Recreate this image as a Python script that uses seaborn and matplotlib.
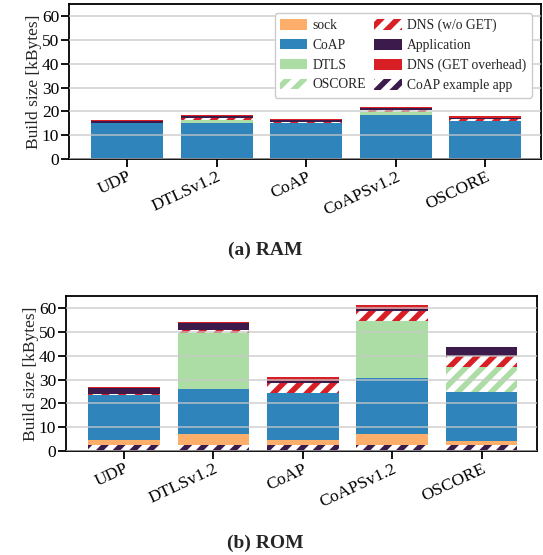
import numpy as np
import matplotlib
matplotlib.use("Agg")
import matplotlib.pyplot as plt
from matplotlib.patches import Patch
import seaborn as sns

# ------------------------------------------
# Data (kBytes), stacked bottom -> top
# ------------------------------------------
categories = ["UDP", "DTLSv1.2", "CoAP", "CoAPSv1.2", "OSCORE"]

layer_names = [
    "CoAP example app",
    "sock",
    "CoAP",
    "DTLS",
    "OSCORE",
    "DNS (w/o GET)",
    "Application",
    "DNS (GET overhead)",
]

# RAM
ram_coap_app = [0, 0, 0, 0, 0]
ram_sock = [0, 0, 0, 0, 0]
ram_coap = [15.1, 15.1, 15.1, 18.3, 15.8]
ram_dtls = [0, 1.1, 0, 1.4, 0]
ram_oscore = [0, 0, 0, 0, 0]
ram_dns_wo_get = [0, 1.1, 0.6, 1.0, 1.0]
ram_application = [0.8, 0.7, 0.7, 0.7, 0.55]
ram_dns_get = [0.35, 0.3, 0.3, 0.4, 0.55]

# ROM
rom_coap_app = [2.4, 2.4, 2.4, 2.4, 2.4]
rom_sock = [2.1, 4.6, 2.1, 4.6, 1.7]
rom_coap = [19.0, 19.0, 19.7, 23.6, 20.6]
rom_dtls = [0, 23.7, 0, 23.8, 0]
rom_oscore = [0, 0, 0, 0, 10.7]
rom_dns_wo_get = [0.5, 1.1, 4.5, 4.3, 4.6]
rom_application = [2.6, 3.0, 0.6, 0.9, 3.6]
rom_dns_get = [0.2, 0.4, 1.6, 1.8, 0.2]

ram_layers = [ram_coap_app, ram_sock, ram_coap, ram_dtls,
              ram_oscore, ram_dns_wo_get, ram_application, ram_dns_get]
rom_layers = [rom_coap_app, rom_sock, rom_coap, rom_dtls,
              rom_oscore, rom_dns_wo_get, rom_application, rom_dns_get]

# ------------------------------------------
# Styles
# ------------------------------------------
purple = "#3d1a4c"
red = "#d81f26"
green = "#abdda4"
styles = {
    "CoAP example app": dict(color=purple, hatch="//"),
    "sock": dict(color="#fdae6b", hatch=None),
    "CoAP": dict(color="#2f84bb", hatch=None),
    "DTLS": dict(color=green, hatch=None),
    "OSCORE": dict(color=green, hatch="//"),
    "DNS (w/o GET)": dict(color=red, hatch="//"),
    "Application": dict(color=purple, hatch=None),
    "DNS (GET overhead)": dict(color=red, hatch=None),
}

sns.set_theme(style="ticks")
plt.rcParams["font.family"] = ["Liberation Serif", "DejaVu Serif"]
plt.rcParams["hatch.linewidth"] = 4.0
plt.rcParams["axes.linewidth"] = 1.3

fig = plt.figure(figsize=(5.43, 5.55), dpi=100)

ax_ram = fig.add_axes([0.127, 0.7135, 0.869, 0.279])
ax_rom = fig.add_axes([0.1215, 0.1874, 0.8674, 0.279])


def draw_stack(ax, layers):
    cum = np.cumsum(np.array(layers, dtype=float), axis=0)
    # draw tallest cumulative first, lower ones cover it
    for k in reversed(range(len(layers))):
        st = styles[layer_names[k]]
        if st["hatch"]:
            sns.barplot(x=categories, y=cum[k], color="white",
                        saturation=1, width=0.8, errorbar=None,
                        edgecolor=st["color"], hatch=st["hatch"],
                        linewidth=0, ax=ax)
        else:
            sns.barplot(x=categories, y=cum[k], color=st["color"],
                        saturation=1, width=0.8, errorbar=None,
                        linewidth=0, ax=ax)

    ax.set_ylim(0, 65)
    ax.set_xlim(-0.65, 4.62)
    ax.set_yticks([0, 10, 20, 30, 40, 50, 60])
    ax.set_axisbelow(False)
    ax.yaxis.grid(True, color="#c8c8c8", linewidth=1.2, alpha=0.8)
    ax.xaxis.grid(False)
    for s in ax.spines.values():
        s.set_visible(True)
        s.set_color("black")
        s.set_linewidth(1.3)
    ax.tick_params(axis="both", direction="out", length=5.5,
                   width=1.3, colors="black", labelsize=12.5, pad=1.5)
    ax.set_ylabel("Build size [kBytes]", fontsize=12.5, labelpad=0)
    ax.set_xlabel("")
    plt.setp(ax.get_xticklabels(), rotation=25, ha="right",
             rotation_mode="anchor")


draw_stack(ax_ram, ram_layers)
draw_stack(ax_rom, rom_layers)

# ------------------------------------------
# Legend
# ------------------------------------------
legend_order = ["sock", "CoAP", "DTLS", "OSCORE",
                "DNS (w/o GET)", "Application", "DNS (GET overhead)",
                "CoAP example app"]
handles = []
for name in legend_order:
    st = styles[name]
    if st["hatch"]:
        handles.append(Patch(facecolor="white", edgecolor=st["color"],
                             hatch=st["hatch"], linewidth=0, label=name))
    else:
        handles.append(Patch(facecolor=st["color"], linewidth=0, label=name))

ax_ram.legend(handles=handles, ncol=2, loc="upper right",
              fontsize=9.8, frameon=True, fancybox=True,
              edgecolor="#cccccc", framealpha=1,
              handlelength=2.0, handleheight=0.8,
              columnspacing=0.6, handletextpad=0.4,
              labelspacing=0.5, borderpad=0.4,
              bbox_to_anchor=(0.995, 0.985))

fig.text(0.488, 0.5495, "(a) RAM", ha="center", va="center",
         fontsize=14, fontweight="bold")
fig.text(0.488, 0.0216, "(b) ROM", ha="center", va="center",
         fontsize=14, fontweight="bold")

fig.savefig("out.png", dpi=100)
